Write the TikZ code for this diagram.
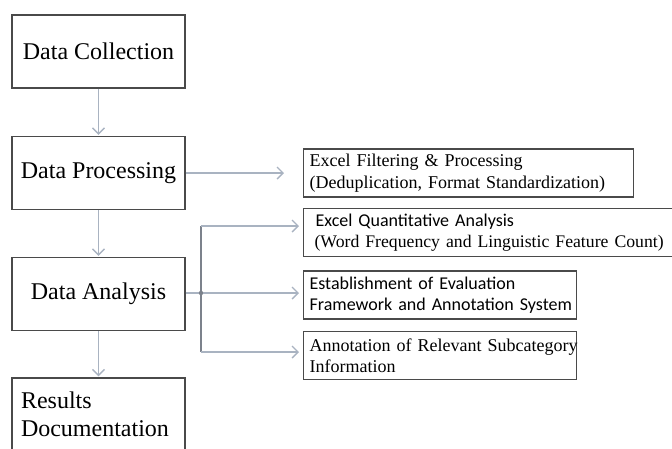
\documentclass[tikz,border=0pt]{standalone}
\usepackage{fontspec}
\setmainfont{Liberation Serif}
\newfontfamily\calib{Carlito}
\usetikzlibrary{positioning, arrows.meta, calc}
\usepackage{xcolor}
\definecolor{boxedge}{HTML}{4A4A4A}
\definecolor{arrgray}{HTML}{A9B3C1}
\definecolor{branchgray}{HTML}{7C828C}

\begin{document}
\begin{tikzpicture}[x=1pt, y=-1pt,
    stagebox/.style={draw=boxedge, line width=1.2pt, minimum width=173pt,
      minimum height=73pt, font=\fontsize{24}{28}\selectfont},
    taskbox/.style={draw=boxedge, line width=1.2pt, anchor=west, align=left,
      inner xsep=6pt, minimum height=48pt, font=\fontsize{18}{21.5}\selectfont},
    flow/.style={draw=arrgray, line width=1.4pt, -{Straight Barb[length=6pt, width=12pt]}},
    joinline/.style={draw=branchgray, line width=1.4pt}]
  \useasboundingbox (0,0) rectangle (672,448);
  % main stages
  \node[stagebox] (coll) at (98.5,51.5) {Data Collection};
  \node[stagebox] (proc) at (98.5,173) {Data Processing};
  \node[stagebox] (ana) at (98.5,294) {Data Analysis};
  \node[stagebox, align=left, text width=155pt, inner xsep=9pt] (res) at (98.5,414.5) {Results\\Documentation};
  \draw[flow, shorten >=1pt] (coll) -- (proc);
  \draw[flow, shorten >=1pt] (proc) -- (ana);
  \draw[flow, shorten >=1pt] (ana) -- (res);
  % sub tasks
  \node[taskbox, text width=318pt] (filt) at (303,173)
    {\mbox{Excel Filtering \& Processing}\\\mbox{(Deduplication, Format Standardization)}};
  \node[taskbox, text width=365pt] (quant) at (303,232.5)
    {\mbox{\calib\ Excel Quantitative Analysis}\\\mbox{\hspace{5pt}\fontsize{17.7}{21.5}\selectfont(Word Frequency and Linguistic Feature Count)}};
  \node[taskbox, text width=261pt, font=\calib\fontsize{18}{21.5}\selectfont] (frame) at (303,295)
    {\mbox{Establishment of Evaluation}\\\mbox{Framework and Annotation System}};
  \node[taskbox, text width=261pt] (annot) at (303,355.5)
    {\mbox{Annotation of Relevant Subcategory}\\\mbox{Information}};
  \draw[flow, shorten >=19pt] (proc.east) -- (proc.east -| filt.west);
  % branch from analysis
  \coordinate (jtop) at (201,226);
  \coordinate (jmid) at (201,293);
  \coordinate (jbot) at (201,352);
  \draw[joinline] (jtop) -- (jbot);
  \draw[draw=arrgray, line width=1.4pt] (ana.east |- jmid) -- (jmid);
  \draw[flow, shorten >=4pt] (jtop) -- (jtop -| quant.west);
  \draw[flow, shorten >=4pt] (jmid) -- (jmid -| frame.west);
  \draw[flow, shorten >=4pt] (jbot) -- (jbot -| annot.west);
  \fill[branchgray] (jmid) circle (2.2pt);
\end{tikzpicture}
\end{document}
